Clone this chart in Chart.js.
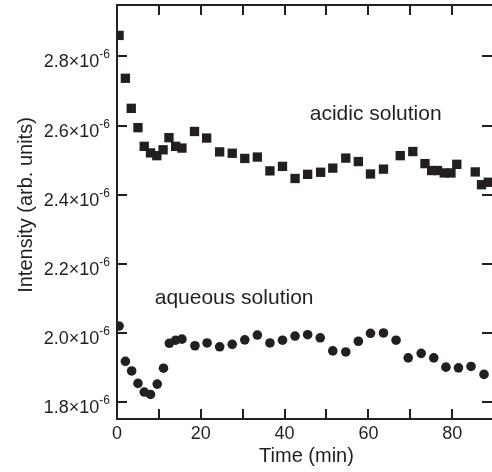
<!DOCTYPE html>
<html>
<head>
<meta charset="utf-8">
<script src="https://cdn.jsdelivr.net/npm/chart.js@4.4.1/dist/chart.umd.min.js"></script>
<style>
  html, body { margin: 0; padding: 0; background: #fff; }
  #wrap { width: 492px; height: 472px; }
</style>
</head>
<body>
<div id="wrap"><canvas id="chart" width="492" height="472"></canvas></div>
<script>
// intensity values are in units of 1e-6 (arb. units), time in minutes
const timesAcidic = [0.5, 2.0, 3.4, 5.0, 6.5, 8.0, 9.5, 11.0, 12.4, 14.0, 15.5, 18.5, 21.4, 24.5, 27.5, 30.5, 33.5, 36.5, 39.5, 42.5, 45.5, 48.6, 51.5, 54.6, 57.6, 60.5, 63.6, 67.6, 70.6, 73.5, 75.1, 76.5, 78.1, 79.7, 81.1, 85.5, 87.0, 88.6]
const acidic = [2.861, 2.737, 2.650, 2.594, 2.540, 2.521, 2.513, 2.530, 2.565, 2.540, 2.535, 2.583, 2.564, 2.524, 2.520, 2.505, 2.509, 2.469, 2.482, 2.447, 2.459, 2.465, 2.477, 2.506, 2.496, 2.460, 2.474, 2.513, 2.525, 2.490, 2.470, 2.470, 2.463, 2.463, 2.488, 2.466, 2.429, 2.436]

const timesAqueous = [0.5, 2.0, 3.5, 5.0, 6.5, 8.0, 9.6, 11.1, 12.5, 14.0, 15.5, 18.6, 21.5, 24.5, 27.5, 30.5, 33.5, 36.5, 39.5, 42.5, 45.5, 48.5, 51.5, 54.6, 57.6, 60.5, 63.6, 66.6, 69.5, 72.6, 75.6, 78.5, 81.5, 84.5, 87.6]
const aqueous = [2.020, 1.918, 1.890, 1.854, 1.829, 1.822, 1.852, 1.898, 1.970, 1.979, 1.982, 1.963, 1.971, 1.960, 1.967, 1.980, 1.994, 1.971, 1.979, 1.991, 1.995, 1.986, 1.948, 1.945, 1.976, 1.999, 2.000, 1.979, 1.928, 1.941, 1.928, 1.901, 1.899, 1.903, 1.880]

const xTitle = 'Time (min)'
const yTitle = 'Intensity (arb. units)'
const yExponent = '-6'

// in-plot labels: [text, time, intensity at baseline]
const labelTexts = ['acidic solution', 'aqueous solution']
const labelTimes = [46.0, 9.0]
const labelValues = [2.616, 2.084]

const INK = '#231f20'
const FONT = '"Liberation Sans", Arial, Helvetica, sans-serif'
const TICK = 10

function toPoints(xs, ys) {
  return xs.map((t, i) => ({ x: t, y: ys[i] }))
}

// frame, inward ticks, y labels with superscripts, titles, in-plot labels
const decorations = {
  id: 'decorations',
  afterDraw(chart) {
    const ctx = chart.ctx
    const { left, top, right, bottom } = chart.chartArea
    const { x, y } = chart.scales

    ctx.save()
    ctx.strokeStyle = INK
    ctx.fillStyle = INK
    ctx.lineWidth = 2

    // frame (right side is cut off in the reference)
    ctx.beginPath()
    ctx.moveTo(right + 2, bottom)
    ctx.lineTo(left, bottom)
    ctx.lineTo(left, top)
    ctx.lineTo(right + 2, top)
    ctx.stroke()

    ctx.beginPath()
    for (const t of x.ticks) {
      if (t.value % 10 !== 0) continue
      const px = Math.round(x.getPixelForValue(t.value))
      ctx.moveTo(px, bottom)
      ctx.lineTo(px, bottom - TICK)
      ctx.moveTo(px, top)
      ctx.lineTo(px, top + TICK)
    }
    for (const t of y.ticks) {
      const py = Math.round(y.getPixelForValue(t.value))
      ctx.moveTo(left, py)
      ctx.lineTo(left + TICK, py)
      ctx.moveTo(right, py)
      ctx.lineTo(right - TICK, py)
    }
    ctx.stroke()

    // y tick labels like 2.8×10^-6
    ctx.textBaseline = 'alphabetic'
    for (const t of y.ticks) {
      const py = y.getPixelForValue(t.value)
      ctx.font = '12px ' + FONT
      const supW = ctx.measureText(yExponent).width
      const xEnd = left - 7 - supW
      ctx.textAlign = 'left'
      ctx.fillText(yExponent, xEnd, py + 2)
      ctx.font = '18px ' + FONT
      ctx.textAlign = 'right'
      ctx.fillText(t.value.toFixed(1) + '×10', xEnd, py + 11)
    }

    // axis titles
    ctx.font = '20px ' + FONT
    ctx.textAlign = 'center'
    ctx.fillText(xTitle, (left + right) / 2 + 2, 462)

    ctx.save()
    ctx.translate(32, (top + bottom) / 2 - 7)
    ctx.rotate(-Math.PI / 2)
    ctx.fillText(yTitle, 0, 0)
    ctx.restore()

    // series labels
    ctx.font = '21px ' + FONT
    ctx.textAlign = 'left'
    labelTexts.forEach((txt, i) => {
      ctx.fillText(txt, x.getPixelForValue(labelTimes[i]), y.getPixelForValue(labelValues[i]))
    })

    ctx.restore()
  }
}

const config = {
  type: 'scatter',
  data: {
    datasets: [
      {
        label: 'acidic solution',
        data: toPoints(timesAcidic, acidic),
        pointStyle: 'rect',
        pointRadius: 6.6,
        backgroundColor: INK,
        borderWidth: 0
      },
      {
        label: 'aqueous solution',
        data: toPoints(timesAqueous, aqueous),
        pointStyle: 'circle',
        pointRadius: 4.8,
        backgroundColor: INK,
        borderWidth: 0
      }
    ]
  },
  options: {
    responsive: false,
    animation: false,
    layout: {
      // no room added for the marker size, the plot runs to the right edge
      autoPadding: false,
      padding: { top: 5, right: 0, bottom: 0, left: 0 }
    },
    plugins: {
      legend: { display: false },
      tooltip: { enabled: false }
    },
    scales: {
      x: {
        type: 'linear',
        min: 0,
        max: 89.5,
        grid: { display: false, drawTicks: false },
        border: { display: false },
        ticks: {
          stepSize: 10,
          includeBounds: false,
          autoSkip: false,
          maxRotation: 0,
          padding: 4,
          color: INK,
          font: { size: 18, family: FONT },
          callback: (v) => (v % 20 === 0 ? String(v) : '')
        },
        afterFit: (scale) => {
          scale.height = 53
          scale.paddingLeft = 0
          scale.paddingRight = 0
        }
      },
      y: {
        type: 'linear',
        min: 1.751,
        max: 2.949,
        grid: { display: false, drawTicks: false },
        border: { display: false },
        ticks: {
          stepSize: 0.2,
          includeBounds: false,
          display: false
        },
        afterFit: (scale) => {
          scale.width = 117
          scale.paddingTop = 0
          scale.paddingBottom = 0
        }
      }
    }
  },
  plugins: [decorations]
}

new Chart(document.getElementById('chart'), config)
</script>
</body>
</html>
